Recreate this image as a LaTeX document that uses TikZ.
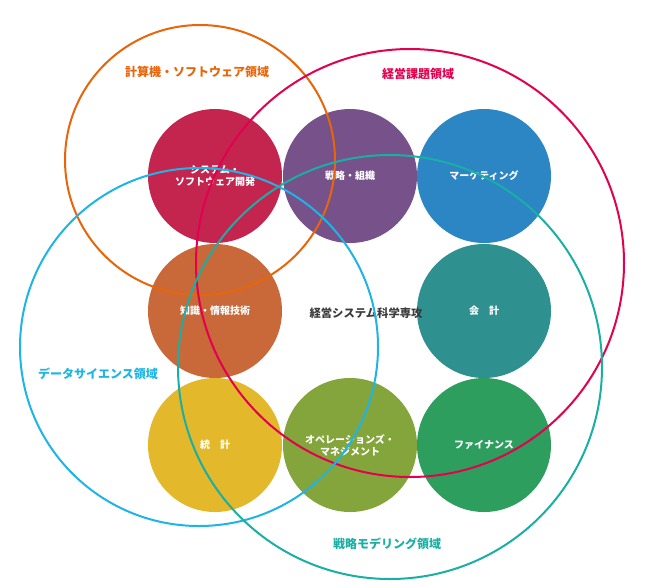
\documentclass[tikz,border=0pt]{standalone}
\usepackage{fontspec}
\newfontfamily\cjk{Noto Sans CJK JP}
\begin{document}
\begin{tikzpicture}[x=0.75pt,y=-0.75pt,
  dot/.style={circle,minimum size=134*0.75pt,inner sep=0pt,text=white,font=\cjk\bfseries\fontsize{7.5}{9}\selectfont,align=center},
  ring/.style={line width=1.5pt},
  area/.style={font=\cjk\bfseries\fontsize{9}{11}\selectfont}]
\useasboundingbox (0,0) rectangle (667,587);
\node[dot,fill={rgb,255:red,196;green,37;blue,79}] (a) at (215,176) {システム・\\ソフトウェア開発};
\node[dot,fill={rgb,255:red,118;green,81;blue,138}] (b) at (350,176) {戦略・組織};
\node[dot,fill={rgb,255:red,44;green,134;blue,196}] (c) at (484,176) {マーケティング};
\node[dot,fill={rgb,255:red,201;green,104;blue,57}] (d) at (215,311) {知識・情報技術};
\node[dot,fill={rgb,255:red,46;green,145;blue,143}] (e) at (484,311) {会\quad 計};
\node[dot,fill={rgb,255:red,227;green,184;blue,42}] (f) at (215,445) {統\quad 計};
\node[dot,fill={rgb,255:red,132;green,165;blue,60}] (g) at (350,445) {オペレーションズ・\\マネジメント};
\node[dot,fill={rgb,255:red,46;green,158;blue,94}] (h) at (484,445) {ファイナンス};
\node[font=\cjk\bfseries\fontsize{8.5}{10}\selectfont,text={rgb,255:red,60;green,60;blue,60}] (m) at (366,313) {経営システム科学専攻};
\draw[ring,draw={rgb,255:red,232;green,101;blue,10}] (200,160) circle (135);
\draw[ring,draw={rgb,255:red,226;green,0;blue,79}] (410,263) circle (214);
\draw[ring,draw={rgb,255:red,30;green,180;blue,230}] (199,347) circle (179);
\draw[ring,draw={rgb,255:red,26;green,175;blue,165}] (390,367) circle (212);
\node[area,text={rgb,255:red,232;green,101;blue,10}] (la) at (197,72) {計算機・ソフトウェア領域};
\node[area,text={rgb,255:red,226;green,0;blue,79}] (lb) at (418,74) {経営課題領域};
\node[area,text={rgb,255:red,30;green,180;blue,230}] (lc) at (98,374) {データサイエンス領域};
\node[area,text={rgb,255:red,26;green,175;blue,165}] (ld) at (387,544) {戦略モデリング領域};
\end{tikzpicture}
\end{document}
